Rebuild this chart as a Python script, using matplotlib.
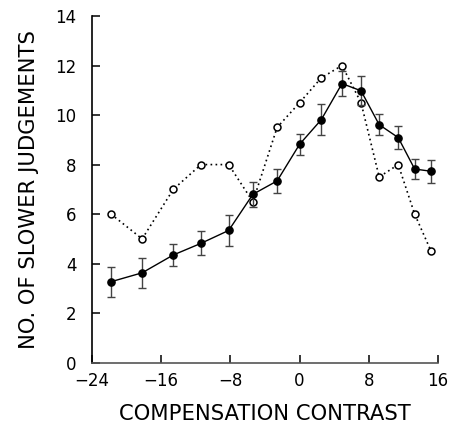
import matplotlib
matplotlib.use("Agg")
import matplotlib.pyplot as plt

# Daten
contrast = [-21.8, -18.2, -14.6, -11.4, -8.2, -5.4, -2.6, 0.0, 2.5, 4.9, 7.1, 9.2, 11.4, 13.3, 15.2]
mean_slower = [3.27, 3.63, 4.35, 4.82, 5.34, 6.8, 7.34, 8.82, 9.81, 11.27, 10.98, 9.61, 9.09, 7.82, 7.73]
err_slower = [0.6, 0.6, 0.46, 0.48, 0.62, 0.51, 0.5, 0.42, 0.63, 0.49, 0.58, 0.43, 0.48, 0.42, 0.46]
single_slower = [6, 5, 7, 8, 8, 6.5, 9.5, 10.5, 11.5, 12, 10.5, 7.5, 8, 6, 4.5]

xticks = [-24, -16, -8, 0, 8, 16]
xticklabels = ['\u221224', '\u221216', '\u22128', '0', '8', '16']
yticks = [0, 2, 4, 6, 8, 10, 12, 14]

plt.rcParams.update({
    'font.family': 'DejaVu Sans',
    'font.size': 11,
    'axes.linewidth': 1.2,
})

fig = plt.figure(figsize=(4.54, 4.32), dpi=100)
ax = fig.add_axes([0.2026, 0.1604, 0.7622, 0.8026])

# offene Kreise, gepunktet
ax.plot(contrast, single_slower, linestyle=(0, (1, 2)), color='black', lw=1.2,
        marker='o', markersize=5, markerfacecolor='white',
        markeredgecolor='black', markeredgewidth=1.1, clip_on=False, zorder=2)

# Mittelwerte mit Fehlerbalken
ax.errorbar(contrast, mean_slower, yerr=err_slower, fmt='-o', color='black',
            lw=1.0, markersize=5.2, ecolor='#444444', elinewidth=1.0,
            capsize=3, capthick=1.0, clip_on=False, zorder=3)

ax.set_xlim(-24, 16)
ax.set_ylim(0, 14)
ax.set_xticks(xticks)
ax.set_xticklabels(xticklabels)
ax.set_yticks(yticks)

for s in ['top', 'right']:
    ax.spines[s].set_visible(False)
ax.spines['bottom'].set_color('#555555')

ax.tick_params(direction='in', length=6, width=1.1, labelsize=12)
ax.tick_params(axis='x', pad=7)
ax.tick_params(axis='y', pad=11)

ax.set_xlabel('COMPENSATION CONTRAST', fontsize=15.2, labelpad=10)
ax.set_ylabel('NO. OF SLOWER JUDGEMENTS', fontsize=15.2, labelpad=12)

fig.savefig('out.png', dpi=100)
